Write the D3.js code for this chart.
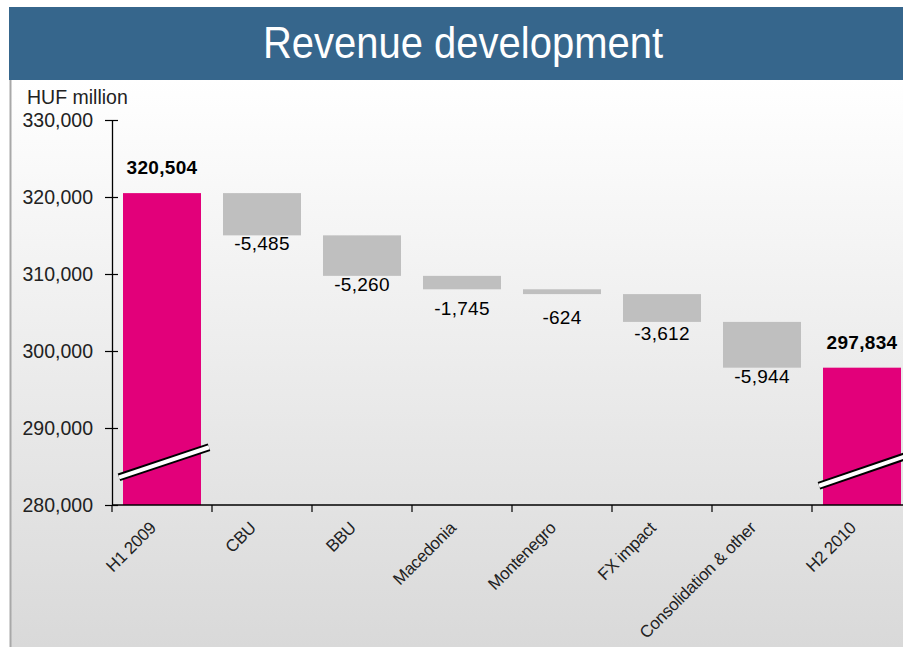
<!DOCTYPE html>
<html>
<head>
<meta charset="utf-8">
<script src="https://cdn.jsdelivr.net/npm/d3@7"></script>
<style>
body { margin: 0; background: #fff; }
text { font-family: "Liberation Sans", Arial, sans-serif; }
</style>
</head>
<body>
<svg id="chart" width="903" height="647"></svg>
<script>
// values
var categories = ["H1 2009", "CBU", "BBU", "Macedonia", "Montenegro", "FX impact", "Consolidation & other", "H2 2010"];
var startTotal = 320504;
var changes = [-5485, -5260, -1745, -624, -3612, -5944];
var endTotal = 297834;
var yTicks = [280000, 290000, 300000, 310000, 320000, 330000];
// axis break marks, in axis units (left end, right end)
var breakLow = [283600, 282500];
var breakHigh = [287500, 286500];

var rows = [];
var run = startTotal;
rows.push({cat: categories[0], lo: 280000, hi: startTotal, total: true, v: startTotal});
changes.forEach(function(c, i){
  rows.push({cat: categories[i+1], lo: run + c, hi: run, total: false, v: c});
  run += c;
});
rows.push({cat: categories[7], lo: 280000, hi: endTotal, total: true, v: endTotal});

var svg = d3.select("#chart");
var W = 903, H = 647;

var defs = svg.append("defs");
var grad = defs.append("linearGradient").attr("id", "bg").attr("x1", 0).attr("y1", 0).attr("x2", 0).attr("y2", 1);
grad.append("stop").attr("offset", "0%").attr("stop-color", "#ffffff");
grad.append("stop").attr("offset", "100%").attr("stop-color", "#d9d9d9");

svg.append("rect").attr("x", 10).attr("y", 80).attr("width", W - 10).attr("height", H - 80).attr("fill", "url(#bg)");
svg.append("line").attr("x1", 10.5).attr("x2", 10.5).attr("y1", 80).attr("y2", H)
  .attr("stroke", "#a8a8a8").attr("stroke-width", 2);

// header
svg.append("rect").attr("x", 9).attr("y", 7).attr("width", W - 9).attr("height", 73).attr("fill", "#36668c");
svg.append("text").attr("x", 463).attr("y", 58).attr("text-anchor", "middle")
  .attr("fill", "#fff").style("font-size", "44px")
  .attr("textLength", 400).attr("lengthAdjust", "spacingAndGlyphs")
  .text("Revenue development");

svg.append("text").attr("x", 27).attr("y", 104).attr("fill", "#222").style("font-size", "19.5px").text("HUF million");

var y = d3.scaleLinear().domain([280000, 330000]).range([505, 120]);
var x = d3.scaleBand().domain(categories).range([112, 912]).paddingInner(0.22).paddingOuter(0.11);
var bw = x.bandwidth();
var gap = (x.step() - bw) / 2;

// bars
svg.selectAll(".bar").data(rows).enter().append("rect")
  .attr("class", "bar")
  .attr("x", function(d){ return x(d.cat); })
  .attr("width", bw)
  .attr("y", function(d){ return y(d.hi); })
  .attr("height", function(d){ return y(d.lo) - y(d.hi); })
  .attr("fill", function(d){ return d.total ? "#e2007a" : "#bfbfbf"; });

// break marks on the total bars
var totals = rows.filter(function(d){ return d.total; });
var brk = d3.line();
totals.forEach(function(d, i){
  var pts = [[x(d.cat) - 4, y(breakLow[i])], [x(d.cat) + bw + 8, y(breakHigh[i])]];
  svg.append("path").attr("d", brk(pts)).attr("stroke", "#000").attr("stroke-width", 8).attr("fill", "none");
  svg.append("path").attr("d", brk(pts)).attr("stroke", "#fff").attr("stroke-width", 4).attr("fill", "none");
});

// plain hyphen for negatives, like the slide
var loc = d3.formatLocale({decimal: ".", thousands: ",", grouping: [3], currency: ["", ""], minus: "-"});
var fmt = loc.format(",");

// value labels
svg.selectAll(".val").data(rows).enter().append("text")
  .attr("class", "val")
  .attr("x", function(d){ return x(d.cat) + bw / 2; })
  .attr("y", function(d){
    if (d.total) return y(d.hi) - 19;
    return Math.max(y(d.lo) + 15, (y(d.lo) + y(d.hi)) / 2 + 32);
  })
  .attr("text-anchor", "middle")
  .attr("fill", "#000")
  .style("font-size", "19px")
  .style("letter-spacing", "0.3px")
  .style("font-weight", function(d){ return d.total ? "bold" : "normal"; })
  .text(function(d){ return fmt(d.v); });

// y axis
var yAxis = svg.append("g").attr("transform", "translate(112,0)")
  .call(d3.axisLeft(y).tickValues(yTicks).tickFormat(fmt).tickSize(7).tickSizeOuter(0).tickPadding(12));
yAxis.select(".domain").attr("stroke", "#000").attr("stroke-width", 1.3);
yAxis.selectAll(".tick line").attr("x1", -7).attr("x2", 6).attr("stroke", "#000").attr("stroke-width", 1.2);
yAxis.selectAll(".tick text").attr("fill", "#222").style("font-size", "19.5px").style("font-family", "Liberation Sans, Arial, sans-serif");

// x axis
svg.append("line").attr("x1", 112).attr("x2", W).attr("y1", 505).attr("y2", 505).attr("stroke", "#000").attr("stroke-width", 1.3);
svg.selectAll(".xt").data(categories).enter().append("line")
  .attr("class", "xt")
  .attr("x1", function(d){ return x(d) - gap; })
  .attr("x2", function(d){ return x(d) - gap; })
  .attr("y1", 505).attr("y2", 512)
  .attr("stroke", "#000").attr("stroke-width", 1.2);
svg.selectAll(".xl").data(categories).enter().append("text")
  .attr("class", "xl")
  .attr("transform", function(d){ return "translate(" + (x(d) + bw / 2 - 5) + ",529) rotate(-45)"; })
  .attr("text-anchor", "end")
  .attr("fill", "#222")
  .style("font-size", "17px")
  .style("letter-spacing", "-0.3px")
  .text(function(d){ return d; });
</script>
</body>
</html>
